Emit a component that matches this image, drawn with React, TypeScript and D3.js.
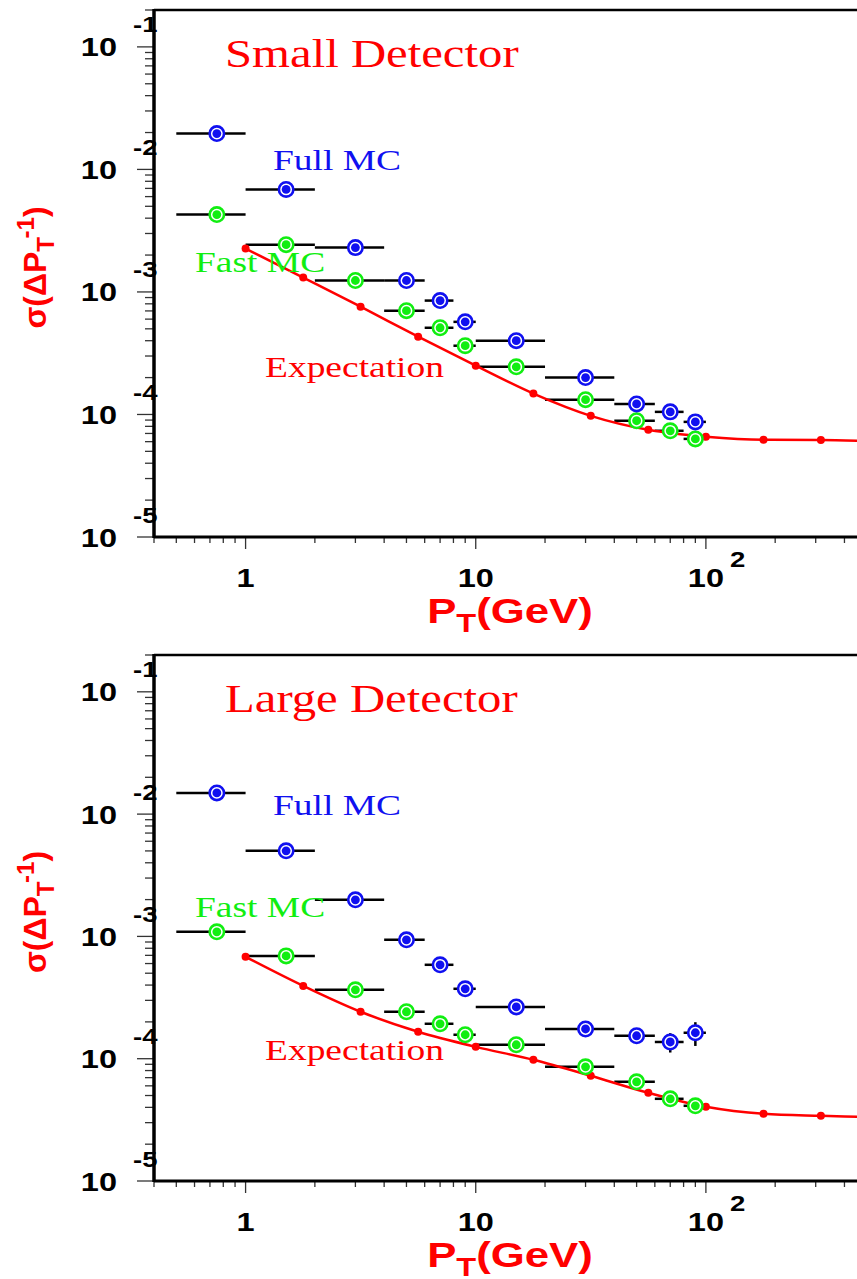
import React, { useEffect, useRef } from 'react';
import * as d3 from 'd3';

// bin centres and widths in P_T (GeV), shared by both detectors
const ptCenter = [0.75, 1.5, 3, 5, 7, 9, 15, 30, 50, 70, 90];
const ptLow = [0.5, 1, 2, 4, 6, 8, 10, 20, 40, 60, 80];
const ptHigh = [1, 2, 4, 6, 8, 10, 20, 40, 60, 80, 100];

// expectation curve sample points
const expPt = [1, 1.78, 3.16, 5.62, 10, 17.8, 31.6, 56.2, 100, 178, 316];
const expCurveEndPt = 460;

// Small detector
const smallFullMC = [0.0196, 0.00686, 0.0023, 0.00124, 0.00085, 0.00057, 0.0004, 0.0002, 0.000122, 0.000105, 0.000087];
const smallFastMC = [0.00428, 0.00243, 0.00124, 0.000703, 0.00051, 0.000364, 0.000245, 0.000132, 0.0000889, 0.0000736, 0.0000632];
const smallExpect = [0.00226, 0.00131, 0.000758, 0.000431, 0.00025, 0.000148, 0.0000975, 0.000075, 0.0000658, 0.0000621, 0.000062];
const smallExpectEnd = 0.000061;

// Large detector
const largeFullMC = [0.0149, 0.00501, 0.00199, 0.000937, 0.000586, 0.000373, 0.000265, 0.000175, 0.000154, 0.000137, 0.000163];
const largeFullMCErr = [0, 0, 0, 0, 0, 0, 0, 0, 0, 0.18, 0.22];
const largeFastMC = [0.00109, 0.000693, 0.000366, 0.000242, 0.000193, 0.000157, 0.00013, 0.0000859, 0.0000647, 0.000047, 0.0000412];
const largeExpect = [0.000681, 0.000394, 0.000242, 0.000166, 0.000125, 0.000098, 0.0000725, 0.0000526, 0.0000404, 0.0000354, 0.0000341];
const largeExpectEnd = 0.0000335;

const yExponents = [-1, -2, -3, -4, -5];
const xLabels = ['1', '10', '10'];
const xLabelValues = [1, 10, 100];
const xLabelSup = ['', '', '2'];

const RED = '#ff0000';
const BLUE = '#1010f0';
const GREEN = '#11ee11';
const SANS = '"Liberation Sans", Arial, sans-serif';
const SERIF = '"Liberation Serif", "Times New Roman", serif';
const STRETCH = 1.25; // the original plot is stretched horizontally

type PanelCfg = {
    top: number;
    bottom: number;
    title: string;
    full: number[];
    fullErr: number[];
    fast: number[];
    expect: number[];
    expectEnd: number;
    expectLabelY: number;
};

export default function App() {
    const svgRef = useRef<SVGSVGElement>(null);

    useEffect(() => {
        if (!svgRef.current) return;
        const svg = d3.select(svgRef.current);
        svg.selectAll('*').remove();

        const width = 857;
        const left = 154;
        const x = d3.scaleLog().domain([0.4, 500]).range([left, 246 + Math.log10(500) * 230]);

        const stretched = (g: any, tx: number, ty: number) =>
            g.append('text').attr('transform', `translate(${tx},${ty}) scale(${STRETCH},1)`);

        const drawPanel = (cfg: PanelCfg) => {
            const g = svg.append('g');
            const y = d3.scaleLog().domain([1e-5, 0.2]).range([cfg.bottom, cfg.top]);

            // y ticks (outward, left)
            for (let k = -5; k <= -1; k++) {
                for (let m = 1; m <= 9; m++) {
                    const v = m * Math.pow(10, k);
                    if (v > 0.2) continue;
                    const len = m === 1 ? 17 : 9;
                    g.append('line')
                        .attr('x1', left - len).attr('x2', left)
                        .attr('y1', y(v)).attr('y2', y(v))
                        .attr('stroke', '#333').attr('stroke-width', 1.3);
                }
            }
            // x ticks (outward, down)
            for (let k = -1; k <= 2; k++) {
                for (let m = 1; m <= 9; m++) {
                    const v = m * Math.pow(10, k);
                    if (v < 0.4 || v > 500) continue;
                    const len = m === 1 ? 12 : 6;
                    g.append('line')
                        .attr('x1', x(v)).attr('x2', x(v))
                        .attr('y1', cfg.bottom).attr('y2', cfg.bottom + len)
                        .attr('stroke', '#333').attr('stroke-width', 1.3);
                }
            }

            // frame
            g.append('line').attr('x1', left).attr('x2', width).attr('y1', cfg.top).attr('y2', cfg.top)
                .attr('stroke', '#000').attr('stroke-width', 2.5);
            g.append('line').attr('x1', left).attr('x2', width).attr('y1', cfg.bottom).attr('y2', cfg.bottom)
                .attr('stroke', '#000').attr('stroke-width', 3);
            g.append('line').attr('x1', left).attr('x2', left).attr('y1', cfg.top - 1).attr('y2', cfg.bottom + 1)
                .attr('stroke', '#000').attr('stroke-width', 3.5);

            // y tick labels 10^k
            yExponents.forEach(k => {
                const ty = y(Math.pow(10, k));
                stretched(g, 117, ty + 9.5)
                    .attr('text-anchor', 'end')
                    .style('font-family', SANS).style('font-weight', 'bold').style('font-size', '26px')
                    .attr('fill', '#000').text('10');
                stretched(g, 133, ty - 14.5)
                    .attr('text-anchor', 'start')
                    .style('font-family', SANS).style('font-weight', 'bold').style('font-size', '22px')
                    .attr('fill', '#000').text(String(k));
            });

            // x tick labels
            xLabelValues.forEach((v, i) => {
                stretched(g, x(v), cfg.bottom + 50)
                    .attr('text-anchor', 'middle')
                    .style('font-family', SANS).style('font-weight', 'bold').style('font-size', '26px')
                    .attr('fill', '#000').text(xLabels[i]);
                if (xLabelSup[i]) {
                    stretched(g, x(v) + 24, cfg.bottom + 30)
                        .style('font-family', SANS).style('font-weight', 'bold').style('font-size', '22px')
                        .attr('fill', '#000').text(xLabelSup[i]);
                }
            });

            // x title
            const xt = stretched(g, 510, cfg.bottom + 86)
                .attr('text-anchor', 'middle')
                .style('font-family', SANS).style('font-weight', 'bold')
                .attr('fill', RED);
            xt.append('tspan').style('font-size', '35px').text('P');
            xt.append('tspan').style('font-size', '26px').attr('dy', 9).text('T');
            xt.append('tspan').style('font-size', '35px').attr('dy', -9).text('(GeV)');

            // y title
            const midY = (cfg.top + cfg.bottom) / 2 + 0;
            const yt = g.append('text')
                .attr('transform', `translate(46,${midY - 6}) rotate(-90)`)
                .attr('text-anchor', 'middle')
                .style('font-family', SANS).style('font-weight', 'bold')
                .attr('fill', RED);
            yt.append('tspan').style('font-size', '32px').text('σ(ΔP');
            yt.append('tspan').style('font-size', '24px').attr('dy', 8).text('T');
            yt.append('tspan').style('font-size', '24px').attr('dy', -20).text('-1');
            yt.append('tspan').style('font-size', '32px').attr('dy', 12).text(')');

            // horizontal error bars
            const series = [
                { vals: cfg.fast, err: cfg.fast.map(() => 0), color: GREEN },
                { vals: cfg.full, err: cfg.fullErr, color: BLUE },
            ];
            series.forEach(s => {
                s.vals.forEach((v, i) => {
                    g.append('line')
                        .attr('x1', x(ptLow[i])).attr('x2', x(ptHigh[i]))
                        .attr('y1', y(v)).attr('y2', y(v))
                        .attr('stroke', '#000').attr('stroke-width', 2.5);
                    if (s.err[i] > 0) {
                        g.append('line')
                            .attr('x1', x(ptCenter[i])).attr('x2', x(ptCenter[i]))
                            .attr('y1', y(v * (1 - s.err[i]))).attr('y2', y(v * (1 + s.err[i])))
                            .attr('stroke', '#000').attr('stroke-width', 2.5);
                    }
                });
            });

            // expectation curve
            const curvePts: [number, number][] = expPt.map((p, i) => [x(p), y(cfg.expect[i])]);
            curvePts.push([x(expCurveEndPt), y(cfg.expectEnd)]);
            g.append('path')
                .attr('d', d3.line().curve(d3.curveMonotoneX)(curvePts))
                .attr('fill', 'none').attr('stroke', RED).attr('stroke-width', 2.5);
            g.selectAll('.exp-dot').data(cfg.expect).enter().append('circle')
                .attr('cx', (d, i) => x(expPt[i])).attr('cy', d => y(d))
                .attr('r', 4).attr('fill', RED);

            // markers
            series.forEach(s => {
                s.vals.forEach((v, i) => {
                    g.append('circle').attr('cx', x(ptCenter[i])).attr('cy', y(v))
                        .attr('r', 7.2).attr('fill', '#fff').attr('stroke', s.color).attr('stroke-width', 2.6);
                    g.append('circle').attr('cx', x(ptCenter[i])).attr('cy', y(v))
                        .attr('r', 4.4).attr('fill', s.color);
                });
            });

            // labels
            stretched(g, 225, cfg.top + 57)
                .style('font-family', SERIF).style('font-size', '39px').attr('fill', RED).text(cfg.title);
            stretched(g, 273, cfg.top + 160)
                .style('font-family', SERIF).style('font-size', '30px').attr('fill', BLUE).text('Full MC');
            stretched(g, 195, cfg.top + 262)
                .style('font-family', SERIF).style('font-size', '30px').attr('fill', GREEN).text('Fast MC');
            stretched(g, 265, cfg.expectLabelY)
                .style('font-family', SERIF).style('font-size', '30px').attr('fill', RED).text('Expectation');
        };

        drawPanel({
            top: 10, bottom: 537, title: 'Small Detector',
            full: smallFullMC, fullErr: smallFullMC.map(() => 0), fast: smallFastMC,
            expect: smallExpect, expectEnd: smallExpectEnd, expectLabelY: 377,
        });
        drawPanel({
            top: 655, bottom: 1181, title: 'Large Detector',
            full: largeFullMC, fullErr: largeFullMCErr, fast: largeFastMC,
            expect: largeExpect, expectEnd: largeExpectEnd, expectLabelY: 1060,
        });
    }, []);

    return (
        <svg
            ref={svgRef}
            width={857}
            height={1279}
            style={{ position: 'absolute', left: 0, top: 0, background: '#fff' }}
        />
    );
}
